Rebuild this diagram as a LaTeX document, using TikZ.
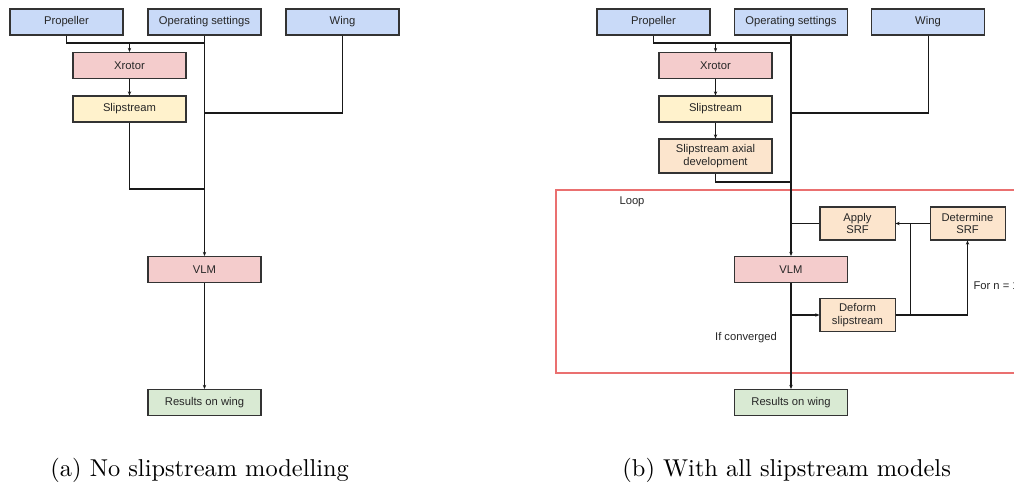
\documentclass[tikz,border=0pt]{standalone}
\usepackage{fontspec}
\newfontfamily\boxfont{Liberation Sans}
\usetikzlibrary{arrows.meta}
\definecolor{inputBlue}{HTML}{C9DAF8}
\definecolor{toolRed}{HTML}{F4CCCC}
\definecolor{slipYellow}{HTML}{FFF2CC}
\definecolor{modelOrange}{HTML}{FCE5CD}
\definecolor{resultGreen}{HTML}{D9EAD3}
\definecolor{loopRed}{HTML}{EA7070}
\begin{document}
\begin{tikzpicture}
% two flow charts, coordinates in pixels of the figure
\def\px{0.41pt}
\providecommand{\flowLineColor}{black!90}
\providecommand{\flowLineWidth}{0.42pt}
\begin{scope}[x=\px, y=-\px, line join=miter,
  box/.style={draw=black!80, line width=\flowLineWidth, inner sep=0pt, align=center,
    font=\boxfont\fontsize{4.6}{5.3}\selectfont, text=black!85,
    minimum width=113*\px, minimum height=26*\px},
  small/.style={box, minimum width=75*\px, minimum height=33*\px},
  lbl/.style={font=\boxfont\fontsize{4.6}{5.3}\selectfont, text=black!85, inner sep=0pt},
  flow/.style={draw=\flowLineColor, line width=\flowLineWidth},
  arr/.style={flow, -{Stealth[length=1.7pt, width=1.4pt]}}]
  \useasboundingbox (0,0) rectangle (1014,496);
  \clip (0,0) rectangle (1014,496);
  % (a) no slipstream modelling
  \node[box, fill=inputBlue] (prop1) at (66.5,22) {Propeller};
  \node[box, fill=inputBlue] (ops1) at (204.5,22) {Operating settings};
  \node[box, fill=inputBlue] (wing1) at (342.5,22) {Wing};
  \node[box, fill=toolRed] (xrot1) at (129.5,65.5) {Xrotor};
  \node[box, fill=slipYellow] (slip1) at (129.5,109) {Slipstream};
  \node[box, fill=toolRed] (vlm1) at (204.5,269.5) {VLM};
  \node[box, fill=resultGreen] (res1) at (204.5,402.5) {Results on wing};
  \coordinate (pj1) at (129.5,43);
  \coordinate (wj1) at (204.5,113);
  \coordinate (sj1) at (204.5,189);
  \draw[flow] (prop1.south) |- (ops1.south |- pj1);
  \draw[arr] (pj1) -- (xrot1.north);
  \draw[arr] (xrot1) -- (slip1);
  \draw[flow] (wing1.south) |- (wj1);
  \draw[flow] (slip1.south) |- (sj1);
  \draw[arr] (ops1.south) -- (vlm1.north);
  \draw[arr] (vlm1) -- (res1);
  % (b) with all slipstream models
  \draw[loopRed, line width=0.5pt] (556,190) rectangle (1040,373);
  \node[lbl] (loop) at (632,202) {Loop};
  \node[box, fill=inputBlue] (prop2) at (653.5,22) {Propeller};
  \node[box, fill=inputBlue] (ops2) at (791,22) {Operating settings};
  \node[box, fill=inputBlue] (wing2) at (928,22) {Wing};
  \node[box, fill=toolRed] (xrot2) at (715.5,65.5) {Xrotor};
  \node[box, fill=slipYellow] (slip2) at (715.5,109) {Slipstream};
  \node[box, fill=modelOrange, minimum height=34*\px] (axial2) at (715.5,156) {Slipstream axial\\development};
  \node[small, fill=modelOrange] (apply2) at (857.5,223.5) {Apply\\SRF};
  \node[small, fill=modelOrange] (det2) at (967.5,223.5) {Determine\\SRF};
  \node[box, fill=toolRed] (vlm2) at (791,269.5) {VLM};
  \node[small, fill=modelOrange] (deform2) at (857.5,315) {Deform\\slipstream};
  \node[box, fill=resultGreen] (res2) at (791,402.5) {Results on wing};
  \node[lbl] (conv) at (746,338) {If converged};
  \node[lbl, anchor=west] (count) at (973,286) {For n = 1};
  \coordinate (pj2) at (715.5,43);
  \coordinate (wj2) at (791,113);
  \coordinate (aj2) at (791,182);
  \coordinate (sj2) at (910,223.5);
  \coordinate (dj2) at (910,315);
  \draw[flow] (prop2.south) |- (ops2.south |- pj2);
  \draw[arr] (pj2) -- (xrot2.north);
  \draw[arr] (xrot2) -- (slip2);
  \draw[arr] (slip2) -- (axial2);
  \draw[flow] (wing2.south) |- (wj2);
  \draw[flow] (axial2.south) |- (aj2);
  \draw[arr] (ops2.south) -- (vlm2.north);
  \draw[flow] (apply2.west) -- (vlm2.north |- apply2.west);
  \draw[arr] (det2.west) -- (apply2.east);
  \draw[flow] (sj2) -- (dj2);
  \draw[arr] (deform2.east) -| (det2.south);
  \draw[arr] (vlm2.south) |- (deform2.west);
  \draw[arr] (vlm2) -- (res2);
  % captions
  \node[anchor=base west, inner sep=0pt] (capa) at (50,476) {(a) No slipstream modelling};
  \node[anchor=base west, inner sep=0pt] (capb) at (622,476) {(b) With all slipstream models};
\end{scope}
\end{tikzpicture}
\end{document}
